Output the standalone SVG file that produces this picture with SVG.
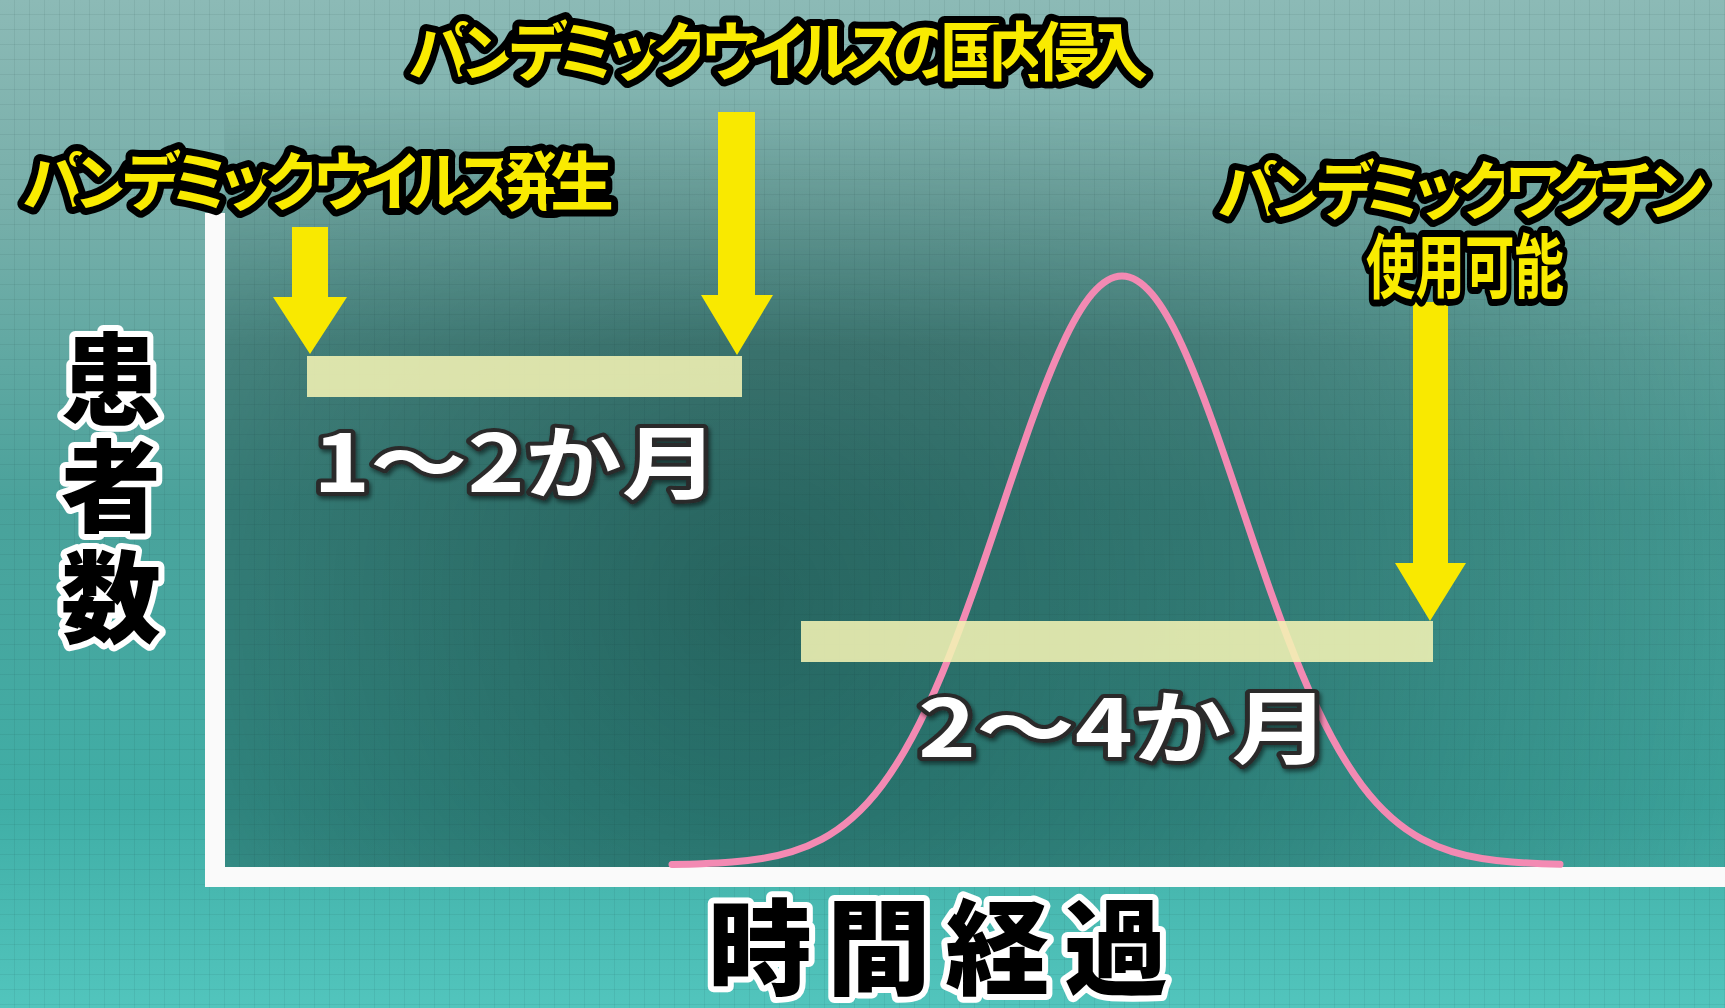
<svg xmlns="http://www.w3.org/2000/svg" width="1725" height="1008" viewBox="0 0 1725 1008">
<style>
.ylab{font-family:"Noto Sans CJK JP","Noto Sans CJK SC",sans-serif;font-weight:700;fill:#f9eb00;stroke:#000;stroke-width:14;stroke-linejoin:round;paint-order:stroke fill;}
.axlab{font-family:"Noto Sans CJK JP","Noto Sans CJK SC",sans-serif;font-weight:900;fill:#000;stroke:#fff;stroke-width:12;stroke-linejoin:round;paint-order:stroke fill;}
.dur{font-family:"Noto Sans CJK JP","Noto Sans CJK SC",sans-serif;font-weight:700;fill:#fff;stroke:#2a2a2a;stroke-width:8;stroke-linejoin:round;paint-order:stroke fill;filter:url(#shadow);}
.bar{fill:#f2f3b4;fill-opacity:0.88;}
.arrow{fill:#f9e900;}
.axis{fill:none;stroke:#fafafa;stroke-width:20;stroke-linejoin:miter;stroke-linecap:butt;}
.curve{fill:none;stroke:#f38ab3;stroke-width:7;stroke-linejoin:round;stroke-linecap:round;}
</style>
<defs>
<linearGradient id="bgV" x1="0" y1="0" x2="0" y2="1">
<stop offset="0" stop-color="#8cbab6"/>
<stop offset="0.2" stop-color="#78afaa"/>
<stop offset="0.5" stop-color="#4aa29b"/>
<stop offset="0.8" stop-color="#40aea6"/>
<stop offset="1" stop-color="#52c5bd"/>
</linearGradient>
<radialGradient id="plotDark" gradientUnits="userSpaceOnUse" cx="750" cy="600" r="1000">
<stop offset="0" stop-color="#123a36" stop-opacity="0.6"/>
<stop offset="0.5" stop-color="#123a36" stop-opacity="0.4"/>
<stop offset="1" stop-color="#123a36" stop-opacity="0.1"/>
</radialGradient>
<linearGradient id="fadeV" x1="0" y1="0" x2="0" y2="1">
<stop offset="0.1" stop-color="#000"/>
<stop offset="0.4" stop-color="#fff"/>
<stop offset="1" stop-color="#fff"/>
</linearGradient>
<mask id="plotFade" maskUnits="userSpaceOnUse" x="225" y="0" width="1500" height="867">
<rect x="225" y="0" width="1500" height="867" fill="url(#fadeV)"/>
</mask>
<pattern id="grid" width="15" height="15" patternUnits="userSpaceOnUse">
<path d="M14.5 0V15M0 14.5H15" stroke="#0a2a28" stroke-opacity="0.07" stroke-width="1"/>
</pattern>
<filter id="shadow" x="-10%" y="-20%" width="120%" height="150%">
<feDropShadow dx="2" dy="3" stdDeviation="2" flood-color="#000" flood-opacity="0.5"/>
</filter>
</defs>

<g id="background">
<rect x="0" y="0" width="1725" height="1008" fill="url(#bgV)"/>
<rect x="225" y="0" width="1500" height="867" fill="url(#plotDark)" mask="url(#plotFade)"/>
<rect x="0" y="0" width="1725" height="1008" fill="url(#grid)"/>
</g>

<g id="axes">
<path class="axis" d="M215,213 V877 H1725"/>
</g>

<g id="curve">
<path class="curve" d="M672,864.5 C682,864.3 692,864.1 702,863.7 C712,863.3 722,862.8 732,862 C742,861.2 752,860.1 762,858.5 C772,856.9 782,854.7 792,851.6 C802,848.5 812,844.5 822,839.1 C832,833.7 842,826.9 852,818.1 C862,809.3 872,798.6 882,785.3 C892,772 902,756.2 912,737.6 C922,719 932,697.7 942,673.8 C952,649.9 962,623.5 972,595.4 C982,567.3 992,537.6 1002,507.8 C1012,478 1022,448.2 1032,420.4 C1042,392.6 1052,366.9 1062,345.2 C1072,323.5 1082,306 1092,294.1 C1102,282.2 1112,276 1122,276 C1132,276 1142,282.2 1152,294.1 C1162,306 1172,323.5 1182,345.2 C1192,366.9 1202,392.6 1212,420.4 C1222,448.2 1232,478 1242,507.8 C1252,537.6 1262,567.3 1272,595.4 C1282,623.5 1292,649.9 1302,673.8 C1312,697.7 1322,719 1332,737.6 C1342,756.2 1352,772 1362,785.3 C1372,798.6 1382,809.3 1392,818.1 C1402,826.9 1412,833.7 1422,839.1 C1432,844.5 1442,848.5 1452,851.6 C1462,854.7 1472,856.9 1482,858.5 C1492,860.1 1502,861.2 1512,862 C1522,862.8 1532,863.3 1542,863.7 L1560,864.3"/>
</g>

<g id="bar-1">
<rect class="bar" x="307" y="356" width="435" height="41"/>
</g>
<g id="bar-2">
<rect class="bar" x="801" y="621" width="632" height="41"/>
</g>

<g id="connectors">
<polygon class="arrow" points="292,227 328,227 328,297 347,297 310,354 273,297 292,297"/>
<polygon class="arrow" points="718,112 755,112 755,295 773,295 737,355 701,295 718,295"/>
<polygon class="arrow" points="1413,302 1448,302 1448,563 1466,563 1430,621 1395,563 1413,563"/>
</g>

<g id="label-outbreak">
<text class="ylab" x="318" y="205" font-size="64" text-anchor="middle" textLength="592" lengthAdjust="spacing">パンデミックウイルス発生</text>
</g>
<g id="label-invasion">
<text class="ylab" x="778" y="75" font-size="64" text-anchor="middle" textLength="740" lengthAdjust="spacing">パンデミックウイルスの国内侵入</text>
</g>
<g id="label-vaccine">
<text class="ylab" x="1463" y="214" font-size="64" text-anchor="middle" textLength="492" lengthAdjust="spacing">パンデミックワクチン</text>
<text class="ylab" x="1465" y="293" font-size="70" text-anchor="middle" textLength="198" lengthAdjust="spacingAndGlyphs">使用可能</text>
</g>

<g id="duration-1">
<text class="dur" x="313" y="492" font-size="80" textLength="406" lengthAdjust="spacingAndGlyphs">1～2か月</text>
</g>
<g id="duration-2">
<text class="dur" x="918" y="757" font-size="80" textLength="412" lengthAdjust="spacingAndGlyphs">2～4か月</text>
</g>

<g id="y-axis-label">
<text class="axlab" font-size="100" text-anchor="middle"><tspan x="111" y="417">患</tspan><tspan x="111" y="524">者</tspan><tspan x="111" y="635">数</tspan></text>
</g>
<g id="x-axis-label">
<text class="axlab" x="708" y="987" font-size="104" textLength="460" lengthAdjust="spacing">時間経過</text>
</g>
</svg>
